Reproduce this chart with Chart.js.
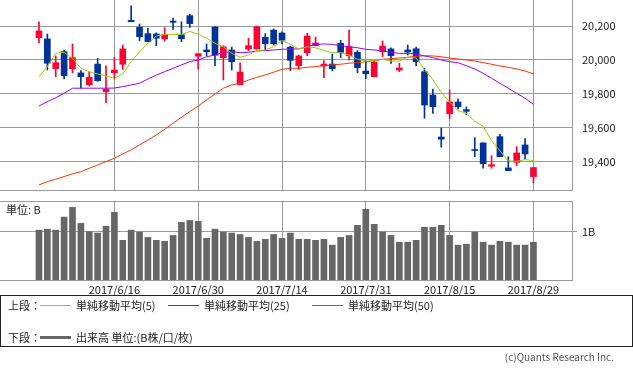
<!DOCTYPE html>
<html>
<head>
<meta charset="utf-8">
<script src="https://cdn.jsdelivr.net/npm/chart.js@4"></script>
<style>
  body { margin: 0; background: #fff; font-family: "Noto Sans CJK JP", sans-serif; }
  #wrap { position: relative; width: 633px; height: 370px; overflow: hidden; }
  canvas { position: absolute; left: 0; }
  #main { top: 0; }
  #vol { top: 195px; }
  .t { position: absolute; font-size: 11px; line-height: 12px; color: #222; white-space: nowrap; }
  #legend { position: absolute; left: 0; top: 295px; width: 633px; height: 52px; box-sizing: border-box; border: 1px solid #222; }
  .ln { position: absolute; height: 1px; width: 31px; }
</style>
</head>
<body>
<div id="wrap">
  <canvas id="main" width="633" height="200"></canvas>
  <canvas id="vol" width="633" height="105"></canvas>
  <div class="t" style="left:6px;top:203px;">単位: B</div>
  <div id="legend">
    <div class="t" style="left:7px;top:3px;">上段：</div>
    <div class="ln" style="left:39px;top:9px;background:#99cc00;"></div>
    <div class="t" style="left:75px;top:3px;">単純移動平均(5)</div>
    <div class="ln" style="left:167px;top:9px;background:#9900ff;"></div>
    <div class="t" style="left:203px;top:3px;">単純移動平均(25)</div>
    <div class="ln" style="left:311px;top:9px;background:#ff3300;"></div>
    <div class="t" style="left:347px;top:3px;">単純移動平均(50)</div>
    <div class="t" style="left:7px;top:35px;">下段：</div>
    <div class="ln" style="left:39px;top:40px;height:3px;background:#666;"></div>
    <div class="t" style="left:75px;top:35px;">出来高 単位:(B株/口/枚)</div>
  </div>
  <div class="t" style="right:19px;top:351px;font-size:10px;color:#555;">(c)Quants Research Inc.</div>
</div>
<script>
const dates = [
  "2017/6/5","2017/6/6","2017/6/7","2017/6/8","2017/6/9","2017/6/12","2017/6/13","2017/6/14","2017/6/15","2017/6/16",
  "2017/6/19","2017/6/20","2017/6/21","2017/6/22","2017/6/23","2017/6/26","2017/6/27","2017/6/28","2017/6/29","2017/6/30",
  "2017/7/3","2017/7/4","2017/7/5","2017/7/6","2017/7/7","2017/7/10","2017/7/11","2017/7/12","2017/7/13","2017/7/14",
  "2017/7/18","2017/7/19","2017/7/20","2017/7/21","2017/7/24","2017/7/25","2017/7/26","2017/7/27","2017/7/28","2017/7/31",
  "2017/8/1","2017/8/2","2017/8/3","2017/8/4","2017/8/7","2017/8/8","2017/8/9","2017/8/10","2017/8/14","2017/8/15",
  "2017/8/16","2017/8/17","2017/8/18","2017/8/21","2017/8/22","2017/8/23","2017/8/24","2017/8/25","2017/8/28","2017/8/29"
]
const open = [
  20131,20124,19949,20049,19949,19924,19855,19976,19814,19925,
  19975,20233,20192,20155,20153,20124,20229,20149,20261,20022,
  20059,20194,20014,20059,19855,20065,20065,20133,20176,20159,
  20076,19967,20043,20084,19965,19976,20098,20025,20045,19935,
  19902,20049,20065,19941,20059,20066,19931,19794,19547,19684,
  19753,19708,19473,19512,19375,19549,19365,19398,19500,19314
]
const high = [
  20224,20153,20024,20059,20094,19937,19929,20010,19965,20016,
  20088,20318,20212,20186,20160,20190,20247,20225,20269,20037,
  20094,20196,20084,20076,19984,20128,20200,20155,20182,20165,
  20082,20029,20157,20135,19996,20035,20116,20176,20055,19996,
  19994,20112,20072,19980,20088,20076,19951,19829,19600,19824,
  19772,19724,19543,19512,19437,19563,19431,19490,19537,19367
]
const low = [
  20102,19941,19902,19888,19925,19834,19847,19875,19749,19888,
  19945,20225,20114,20108,20084,20112,20180,20108,20192,19945,
  20024,19966,19882,19941,19855,20053,20065,20059,20088,20096,
  19937,19945,20025,20084,19896,19937,20014,20000,19925,19890,
  19902,20020,19980,19931,20029,19966,19657,19686,19487,19655,
  19712,19678,19431,19363,19363,19431,19349,19378,19418,19278
]
const close = [
  20171,19981,19984,19908,20014,19902,19898,19878,19828,19941,
  20065,20225,20137,20108,20128,20151,20222,20125,20214,20037,
  20049,20028,20078,19990,19929,20084,20196,20096,20096,20116,
  19998,20024,20141,20100,19976,19949,20045,20078,19955,19919,
  19988,20082,20025,19953,20047,19990,19735,19725,19534,19753,
  19725,19698,19467,19390,19384,19431,19349,19453,19447,19367
]
const ma5 = [
  19902,19961,20039,20045,20010,19951,19931,19918,19906,19892,
  19918,19990,20049,20098,20141,20151,20151,20149,20168,20152,
  20128,20098,20078,20039,20016,20029,20055,20059,20078,20114,
  20092,20065,20078,20072,20055,20043,20043,20029,20004,19994,
  19996,20004,19994,19994,20017,20012,19944,19884,19810,19752,
  19702,19686,19640,19610,19525,19466,19406,19404,19414,19408
]
const ma25 = [
  19729,19755,19778,19804,19834,19834,19834,19834,19834,19835,
  19843,19853,19863,19888,19912,19931,19951,19971,19990,20000,
  20019,20029,20045,20049,20043,20045,20053,20055,20059,20063,
  20065,20065,20078,20092,20094,20092,20084,20078,20072,20063,
  20059,20053,20045,20039,20039,20035,20024,20014,20000,19990,
  19984,19966,19947,19922,19892,19863,19834,19804,19775,19739
]
const ma50 = [
  19265,19284,19298,19314,19330,19343,19363,19382,19402,19422,
  19447,19471,19500,19529,19559,19592,19628,19663,19696,19729,
  19765,19800,19834,19853,19863,19882,19898,19912,19928,19945,
  19951,19951,19957,19961,19966,19971,19975,19981,19984,19990,
  19996,20004,20008,20012,20016,20022,20025,20024,20019,20012,
  20006,20000,19994,19984,19975,19965,19957,19947,19935,19918
]
// 出来高 (B株)
const volume = [
  1.03,1.05,1.03,1.30,1.50,1.17,1.00,0.97,1.11,1.40,
  0.82,1.03,0.99,0.88,0.82,0.80,0.92,1.19,1.23,1.21,
  0.86,1.05,0.99,0.97,0.94,0.88,0.80,0.84,0.94,0.86,
  0.97,0.84,0.84,0.82,0.84,0.72,0.88,0.92,1.13,1.46,
  1.15,0.99,0.92,0.78,0.78,0.82,1.09,1.09,1.13,0.92,
  0.72,0.74,0.99,0.78,0.72,0.80,0.78,0.72,0.72,0.78
]
const priceTicks = [19400, 19600, 19800, 20000, 20200]
const dateTicks = ["2017/6/16", "2017/6/30", "2017/7/14", "2017/7/31", "2017/8/15", "2017/8/29"]

const UP = "#ff0033"
const DOWN = "#003399"
const GRID = "#9a9a9a"
const FONT = { family: "Noto Sans CJK JP", size: 11 }

Chart.defaults.font.family = FONT.family

const candleColors = close.map((c, i) => c >= open[i] ? UP : DOWN)
const tickIdx = dateTicks.map(d => dates.indexOf(d))

// both panels share the same x range so candles and volume bars line up
function xAxis(showLabels, height) {
    return {
        type: "linear",
        min: -4.65,
        max: 63.6,
        offset: false,
        afterBuildTicks: s => { s.ticks = tickIdx.map(v => ({ value: v })) },
        afterFit: s => { s.height = height; s.paddingLeft = 0; s.paddingRight = 0 },
        ticks: {
            display: showLabels,
            autoSkip: false,
            maxRotation: 0,
            padding: 3,
            color: "#222",
            font: FONT,
            callback: v => dates[v],
        },
        grid: { color: GRID, lineWidth: 1, drawTicks: false, offset: false },
        border: { color: GRID },
    }
}

const topLine = {
    id: "topLine",
    afterDraw(chart) {
        const { ctx, chartArea: a } = chart
        ctx.save()
        ctx.strokeStyle = GRID
        ctx.lineWidth = 1
        ctx.beginPath()
        ctx.moveTo(a.left, a.top + 0.5)
        ctx.lineTo(a.right, a.top + 0.5)
        ctx.stroke()
        ctx.restore()
    }
}

const lineSet = (data, color) => ({
    type: "line",
    data: data.map((v, i) => ({ x: i, y: v })),
    borderColor: color,
    borderWidth: 1,
    pointRadius: 0,
    tension: 0,
    order: 0,
})

new Chart(document.getElementById("main"), {
    type: "bar",
    data: {
        datasets: [
            lineSet(ma5, "#99cc00"),
            lineSet(ma25, "#9900ff"),
            lineSet(ma50, "#ff3300"),
            {
                // 実体
                data: dates.map((d, i) => ({ x: i, y: [open[i], close[i]] })),
                backgroundColor: candleColors,
                barThickness: 6,
                minBarLength: 1,
                grouped: false,
                order: 1,
            },
            {
                // ヒゲ
                data: dates.map((d, i) => ({ x: i, y: [low[i], high[i]] })),
                backgroundColor: candleColors,
                barThickness: 1,
                grouped: false,
                order: 2,
            },
        ],
    },
    options: {
        responsive: false,
        animation: false,
        layout: { padding: 0 },
        plugins: { legend: { display: false }, tooltip: { enabled: false } },
        scales: {
            x: xAxis(false, 10),
            y: {
                position: "right",
                min: 19235,
                max: 20353,
                afterBuildTicks: s => { s.ticks = priceTicks.map(v => ({ value: v })) },
                afterFit: s => { s.width = 61; s.paddingTop = 0; s.paddingBottom = 0 },
                ticks: {
                    padding: 10,
                    color: "#222",
                    font: FONT,
                    callback: v => v.toLocaleString("en-US"),
                },
                grid: { color: GRID, drawTicks: false },
                border: { color: GRID },
            },
        },
    },
})

new Chart(document.getElementById("vol"), {
    type: "bar",
    data: {
        datasets: [{
            data: volume.map((v, i) => ({ x: i, y: v })),
            backgroundColor: "#666666",
            barThickness: 6,
        }],
    },
    options: {
        responsive: false,
        animation: false,
        layout: { padding: { top: 6 } },
        plugins: { legend: { display: false }, tooltip: { enabled: false } },
        scales: {
            x: xAxis(true, 20),
            y: {
                position: "right",
                min: 0,
                max: 1.632,
                afterBuildTicks: s => { s.ticks = [{ value: 1 }] },
                afterFit: s => { s.width = 61; s.paddingTop = 0; s.paddingBottom = 0 },
                ticks: { padding: 5, color: "#222", font: FONT, callback: () => "1B" },
                grid: { color: GRID, tickLength: 5 },
                border: { color: GRID },
            },
        },
    },
    plugins: [topLine],
})
</script>
</body>
</html>
